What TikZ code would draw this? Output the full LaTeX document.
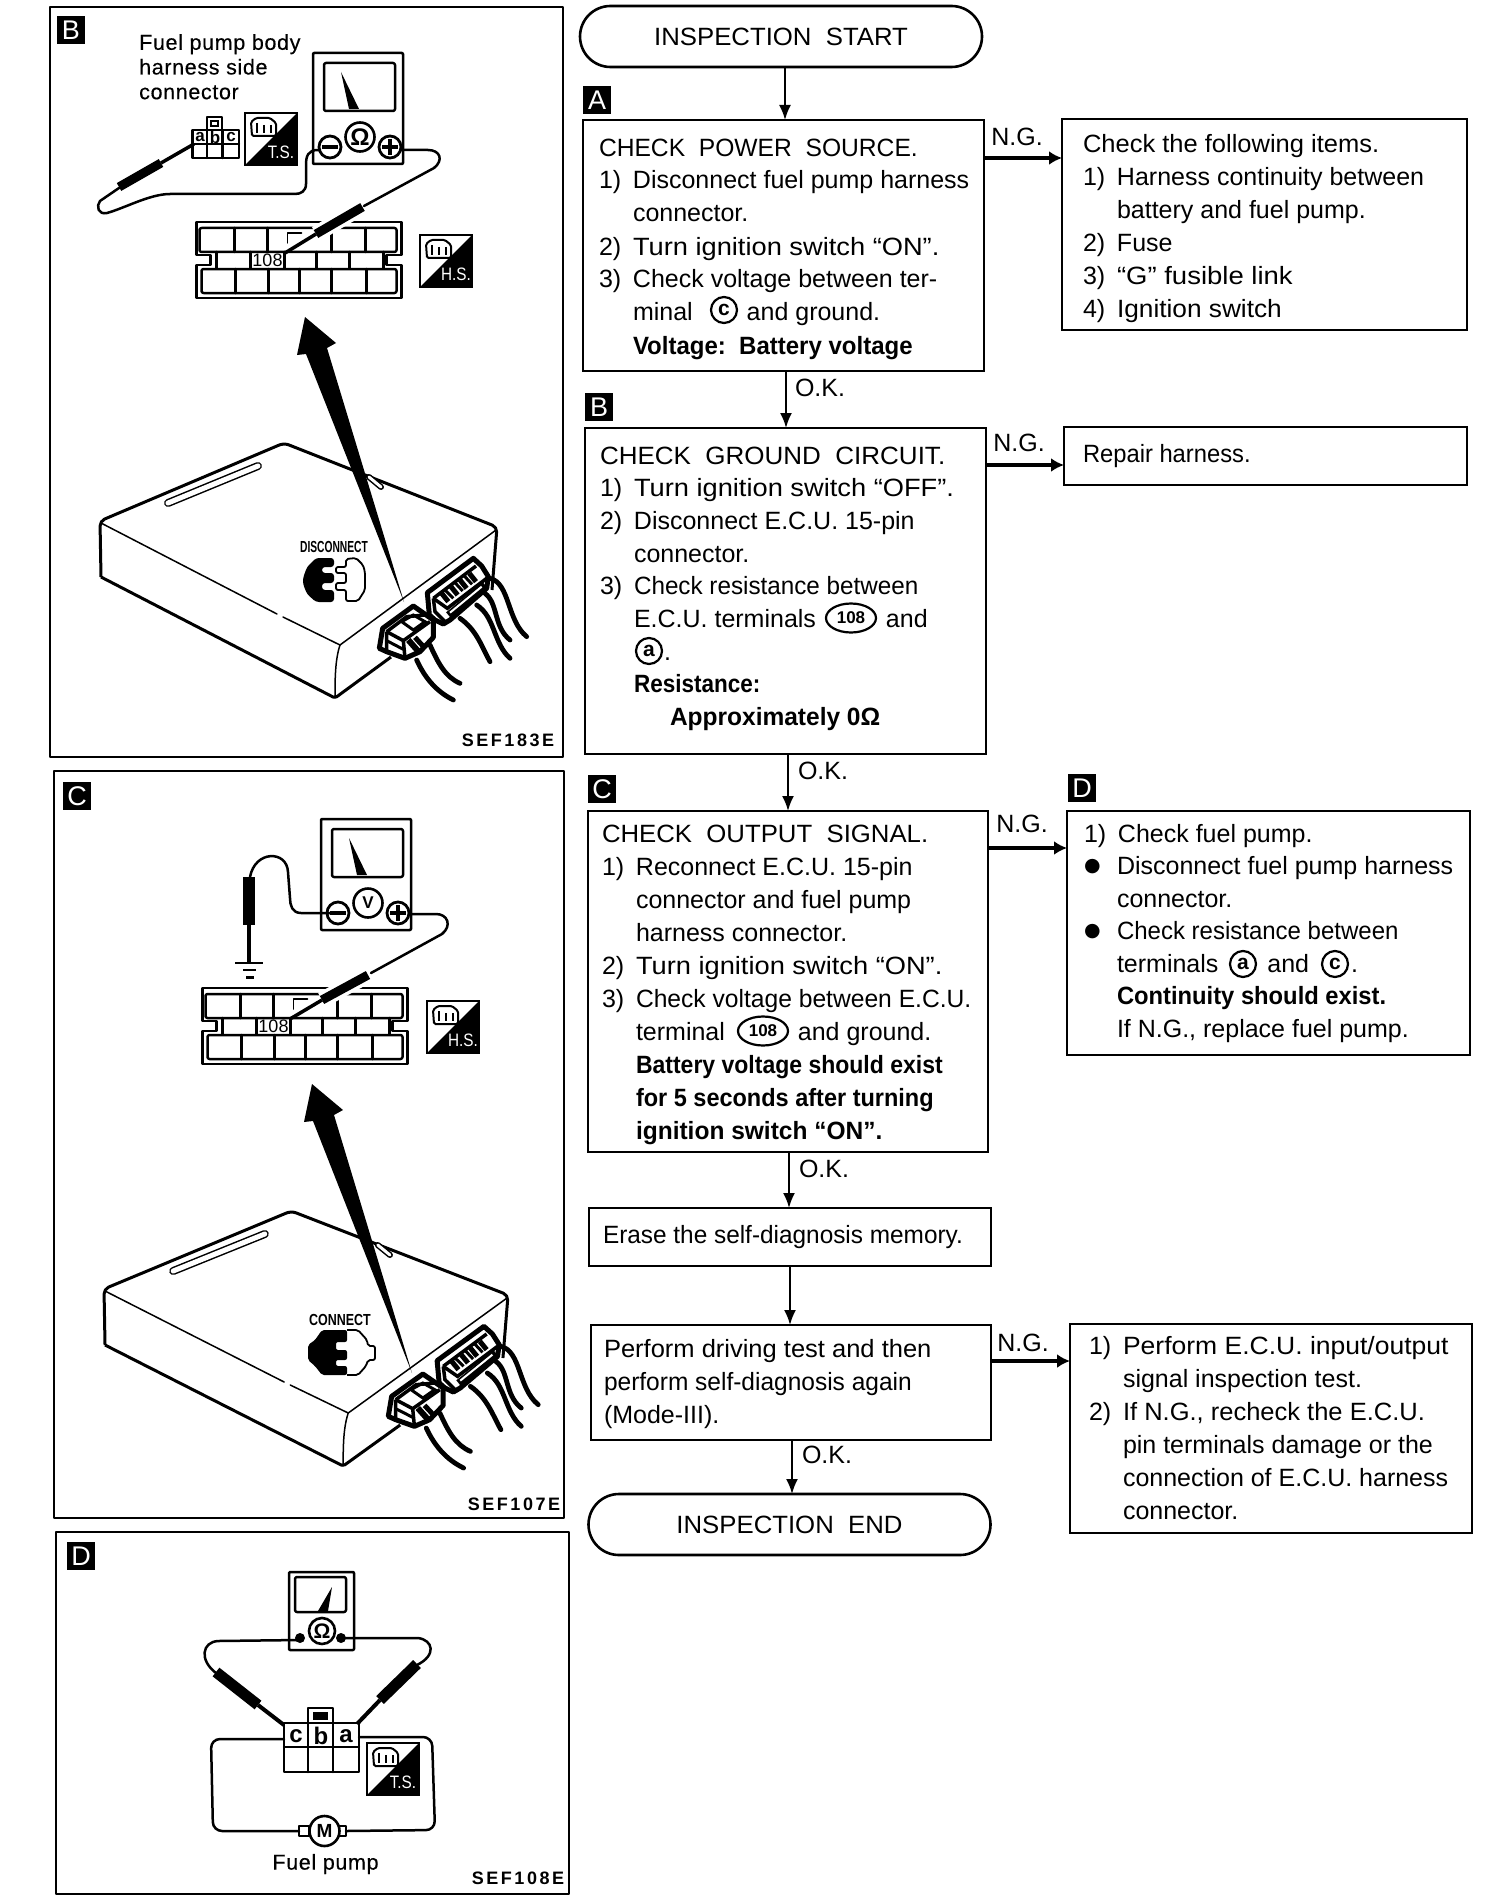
\documentclass[tikz,border=0pt]{standalone}
\usepackage{fontspec}
\usepackage{graphicx}
\setmainfont{Liberation Sans}
\newfontfamily\djv{DejaVu Sans}
\newfontfamily\codefont[LetterSpace=14]{Liberation Sans}
\newfontfamily\notefont[LetterSpace=3,FakeBold=0.3]{Liberation Sans}
\usetikzlibrary{arrows.meta,shapes.misc,shapes.geometric}
\newcommand{\flowfont}{\fontsize{25}{33}\selectfont}
\newcommand{\boxbody}[6]{\begin{minipage}[c][#2pt][t]{#1pt}\raggedright\leftskip=#3pt\relax\parindent=0pt\parskip=0pt\baselineskip=#5pt\relax\lineskip=0pt\vspace*{\dimexpr#4pt-24pt\relax}\noindent\rule{0pt}{24pt}#6\end{minipage}}
\newcommand{\nn}[1]{\makebox[34pt][l]{#1}}
\newcommand{\cc}{\hspace*{34pt}}
\newcommand{\dotb}{\makebox[33pt][l]{\raisebox{3pt}{\djv\fontsize{19}{19}\selectfont ●}}}
\newcommand{\sx}[2]{\scalebox{#1}[1]{#2}}
\tikzset{
 pen/.style={line width=2.5pt,line join=round,line cap=round},
 thin pen/.style={line width=1.5pt,line join=round,line cap=round},
 panel/.style={line width=2.8pt,line join=round},
 flowbox/.style={draw,line width=2.6pt,inner sep=0pt,outer sep=0pt,anchor=north west,font=\flowfont},
 term/.style={draw,rounded rectangle,line width=2.6pt,inner sep=0pt,outer sep=0pt,minimum width=402pt,minimum height=61pt,font=\flowfont},
 flow/.style={line width=2pt,-{Latex[length=15pt,width=12pt]}},
 ngflow/.style={line width=3.4pt,-{Latex[length=13pt,width=14pt]}},
 tag/.style={fill=black,text=white,inner sep=0pt,minimum size=28pt,font=\fontsize{27}{27}\selectfont},
 lab/.style={inner sep=0pt,font=\flowfont},
 ring/.style={circle,draw,line width=2.2pt,inner sep=0pt,minimum size=26pt,font=\fontsize{21}{21}\selectfont\bfseries},
 oval/.style={ellipse,draw,line width=2.2pt,inner sep=0pt,minimum width=50pt,minimum height=29pt,font=\fontsize{17}{17}\selectfont\bfseries},
 code/.style={inner sep=0pt,font=\fontsize{18}{18}\selectfont\codefont\bfseries},
 note/.style={inner sep=0pt,font=\fontsize{21.5}{24.7}\selectfont\notefont},
}
% ---------- repeated drawings
\newcommand{\badge}[4]{% x y name text
 \begin{scope}[shift={(#1,#2)}]
  \fill[black] (52,0) -- (52,52) -- (0,52) -- cycle;
  \draw[line width=2pt] (0,0) rectangle (52,52);
  \draw[line width=2pt,rounded corners=1.5pt,fill=white] (6,9) -- (11,5) -- (25,5) -- (31,10) -- (31,23) -- (7,23) -- cycle;
  \draw[line width=2.6pt] (12,10) -- (12,20) (19,12) -- (19,20) (26,12) -- (26,20);
  \node[inner sep=0pt,text=white,font=\fontsize{18}{18}\selectfont] (#3) at (36,39) {\sx{.85}{#4}};
 \end{scope}}
\newcommand{\bigconn}[3]{% x y shift, name
 \begin{scope}[shift={(#1,#2)}]
  \draw[pen] (198,222) -- (403,222) -- (403,255) -- (388,255) -- (388,265) -- (403,265) -- (403,298) -- (198,298) -- (198,265) -- (212,265) -- (212,255) -- (198,255) -- cycle;
  \draw[pen,rounded corners=2pt] (201,228) rectangle (398,252);
  \draw[pen,rounded corners=2pt] (203,269) rectangle (398,293);
  \draw[pen] (218,252) -- (218,268) (385,252) -- (385,268);
  \draw[pen] (236,228) -- (236,252) (269,228) -- (269,252) (333,228) -- (333,252) (367,228) -- (367,252);
  \draw[pen] (252,252) -- (252,268) (286,252) -- (286,268) (318,252) -- (318,268) (351,252) -- (351,268);
  \draw[pen] (237,269) -- (237,293) (270,269) -- (270,293) (301,269) -- (301,293) (333,269) -- (333,293) (368,269) -- (368,293);
  \draw[thin pen] (289,243) -- (289,233) -- (303,233);
  \node[inner sep=0pt,font=\fontsize{18}{18}\selectfont] (#3) at (269,260.5) {108};
 \end{scope}}
\newcommand{\meterbox}[4]{% x y shift, name, symbol
 \begin{scope}[shift={(#1,#2)}]
  \draw[pen,rounded corners=1pt,fill=white] (316,53) rectangle (406,164);
  \draw[pen,rounded corners=2pt] (327,63) rectangle (398,111);
  \fill[black] (344,72) -- (352,109) -- (362,109) -- cycle;
  \node[circle,draw,line width=2.6pt,minimum size=29pt,inner sep=0pt,font=\fontsize{#4}{#4}\selectfont\bfseries] (#3) at (363,137) {\meterglyph};
  \draw[line width=2.8pt,fill=white] (333,147) circle (11);
  \draw[line width=3.4pt] (325,147) -- (341,147);
  \draw[line width=2.8pt,fill=white] (393,147) circle (11);
  \draw[line width=3.4pt] (385,147) -- (401,147) (393,139) -- (393,155);
 \end{scope}}
\newcommand{\ecu}[3]{%
 \begin{scope}[shift={(#1,#2)},xscale=#3]
  \draw[line width=3pt,line join=round,rounded corners=5pt] (101,577) -- (100,521) -- (284,443) -- (497,527) -- (492,590);
  \draw[line width=3pt,line join=round,rounded corners=2pt] (101,577) -- (335,698) -- (391,657);
  \draw[thin pen] (101,523) -- (277,614) (283,617) -- (340,645);
  \draw[thin pen] (340,645) -- (496,530);
  \draw[thin pen] (340,645) .. controls (335,660) and (335,680) .. (335,698);
  \draw[line width=8pt,line cap=round] (168,503) -- (258,466);
  \draw[line width=5pt,line cap=round,white] (168,503) -- (258,466);
  \draw[line width=6pt,line cap=round] (369,477) -- (381,487);
  \draw[line width=3pt,line cap=round,white] (369,477) -- (381,487);
  \begin{scope}[shift={(370,550)},scale=.33333]
   % back connector
   \draw[line width=5pt,line join=round,fill=white] (172,128) -- (310,25) -- (335,48) -- (355,80) -- (350,115) -- (240,210) -- (220,222) -- (195,210) -- (178,195) -- cycle;
   \draw[line width=3.5pt] (190,145) -- (318,48) (190,145) -- (195,185) -- (225,215);
   \draw[line width=3.5pt] (190,145) -- (232,175) -- (350,85);
   \draw[line width=5pt] (215,130) -- (235,155) (243,110) -- (263,135) (270,90) -- (290,115) (298,70) -- (318,95);
   \draw[line width=3pt] (225,120) -- (250,145) (255,98) -- (278,123) (283,78) -- (306,103);
   \draw[line width=7pt] (235,195) -- (345,105);
   \draw[line width=2pt,white] (240,188) -- (335,110);
   % front connector
   \draw[line width=5pt,line join=round,fill=white] (38,235) -- (130,168) -- (190,210) -- (190,262) -- (150,305) -- (105,325) -- (50,305) -- (28,295) -- cycle;
   \draw[line width=3.5pt] (50,245) -- (110,200) -- (165,195) (50,245) -- (50,305);
   \draw[line width=3.5pt] (50,245) -- (100,272) -- (105,325) (100,272) -- (180,215);
   \draw[line width=3pt] (50,272) -- (100,298);
   \draw[line width=3pt] (95,215) -- (130,195) -- (165,215) -- (130,240) -- cycle;
   \draw[line width=6pt] (115,270) -- (150,310);
   \draw[line width=5pt] (135,262) -- (165,295);
   % wires
   \draw[line width=4.8pt,line cap=round] (140,330) .. controls (165,385) and (200,425) .. (250,450);
   \draw[line width=4.8pt,line cap=round] (180,285) .. controls (205,340) and (225,380) .. (270,400);
   \draw[line width=4.8pt,line cap=round] (270,205) .. controls (320,240) and (335,290) .. (360,335);
   \draw[line width=4.8pt,line cap=round] (320,165) .. controls (375,200) and (370,280) .. (420,325);
   \draw[line width=4.8pt,line cap=round] (345,130) .. controls (385,160) and (370,230) .. (420,270);
   \draw[line width=4.8pt,line cap=round] (360,85) .. controls (420,100) and (410,210) .. (470,260);
  \end{scope}
 \end{scope}}
\newcommand{\meterglyph}{}
\begin{document}
\begin{tikzpicture}[x=1pt,y=-1pt]
\fill[white] (0,0) rectangle (1488,1902);
\useasboundingbox (0,0) rectangle (1488,1902);

% ================= PANEL B =================
\draw[panel] (50,7) rectangle (563,757);
\node[tag] (tagPB) at (71,30) {B};
\node[note,anchor=north west,align=left] (noteB) at (139,34) {Fuel pump body\\harness side\\connector};
\renewcommand{\meterglyph}{Ω}
\meterbox{-3}{0}{omegaB}{24}
% small connector
\draw[pen] (192.5,130) rectangle (239,158);
\draw[pen] (192.5,144) -- (239,144) (207,130) -- (207,158) (222.6,130) -- (222.6,158);
\draw[pen] (207,117) rectangle (222,130);
\draw[line width=1.8pt] (211,121) rectangle (218,126);
\node[inner sep=0pt,font=\fontsize{17}{17}\selectfont\bfseries] (aB) at (200,137) {a};
\node[inner sep=0pt,font=\fontsize{17}{17}\selectfont\bfseries] (bB) at (215,137) {b};
\node[inner sep=0pt,font=\fontsize{17}{17}\selectfont\bfseries] (cB) at (231,137) {c};
\badge{245}{113}{tsB}{T.S.}
\bigconn{-1.5}{0}{n108B}
\badge{420}{235}{hsB}{H.S.}
% wires and probes
\draw[pen] (320,150) -- (318,150) .. controls (308,150) and (306,156) .. (306,165) -- (306,184) .. controls (306,191) and (301,194) .. (295,194) -- (170,194) .. controls (150,194) and (125,208) .. (107,213) .. controls (98,215) and (96,206) .. (100,201) -- (119,188);
\draw[line width=9pt] (119,187) -- (161,163);
\draw[line width=3.5pt] (161,163) -- (194,144);
\draw[pen] (401,150) -- (428,150) .. controls (440,150) and (444,160) .. (434,168) -- (364,206);
\draw[line width=16pt,white] (362,207) -- (316,234);
\draw[line width=9pt] (362.5,207) -- (316,234);
\draw[line width=3.5pt] (316,234) -- (285,253);
% ECU
\ecu{0}{0}{1}
\node[inner sep=0pt,font=\fontsize{16}{16}\selectfont\bfseries] (discB) at (334,547) {\sx{.64}{DISCONNECT}};
\fill[black,rounded corners=3pt] (334,558) -- (316,558) -- (307,567) -- (303,578) -- (303,584) -- (307,594) -- (316,602) -- (334,602) -- (334,590) -- (322,590) -- (322,583) -- (334,583) -- (334,573) -- (322,573) -- (322,567) -- (334,567) -- cycle;
\draw[line width=1.8pt,line join=round,rounded corners=2pt] (346,567) -- (346,559) -- (356,558) -- (363,565) -- (365,572) -- (365,590) -- (358,601) -- (346,601) -- (346,590) -- (336,590) -- (336,583) -- (346,583) -- (346,573) -- (336,573) -- (336,567) -- cycle;
\fill[black] (305,317) -- (336,343) -- (327,348) -- (404,602) -- (306,354) -- (297,355) -- cycle;
\node[code] (codeB) at (508,740) {SEF183E};

% ================= PANEL C =================
\draw[panel] (54,771) rectangle (564,1518);
\node[tag] (tagPC) at (77,796) {C};
\renewcommand{\meterglyph}{V}
\meterbox{5}{766}{voltC}{17}
\bigconn{4.5}{766}{n108C}
\badge{427}{1001}{hsC}{H.S.}
\draw[pen] (330,913) -- (301,913) .. controls (292,913) and (290,905) .. (290,898) -- (288,872) .. controls (287,850) and (255,850) .. (250,877);
\draw[line width=12pt] (249,877) -- (249,925);
\draw[line width=4pt] (249,925) -- (249,963);
\draw[line width=2.5pt] (235,963) -- (263,963);
\draw[line width=2.5pt] (243,970) -- (256,970);
\draw[line width=3pt] (246,977) -- (254,977);
\draw[pen] (409,914) -- (436,914) .. controls (448,914) and (452,926) .. (442,934) -- (371,973);
\draw[line width=16pt,white] (368,975) -- (322,1000);
\draw[line width=9pt] (368,975) -- (322,1000);
\draw[line width=3.5pt] (322,1000) -- (290,1019);
\ecu{2.23}{768}{1.0177}
\node[inner sep=0pt,font=\fontsize{16}{16}\selectfont\bfseries] (discC) at (340,1320) {\sx{.78}{CONNECT}};
\fill[black,rounded corners=2pt] (347,1330) -- (322,1330) -- (315,1340) -- (308,1345) -- (308,1360) -- (315,1366) -- (322,1375) -- (347,1375) -- (347,1366) -- (336,1366) -- (336,1360) -- (347,1360) -- (347,1350) -- (336,1350) -- (336,1342) -- (347,1342) -- cycle;
\draw[line width=1.8pt,line join=round,rounded corners=2pt] (347,1330) -- (358,1330) -- (367,1340) -- (368,1346) -- (375,1346) -- (375,1360) -- (368,1360) -- (366,1366) -- (358,1375) -- (347,1375);
\fill[black] (312,1084) -- (343,1110) -- (334,1115) -- (412,1373) -- (313,1121) -- (304,1122) -- cycle;
\node[code] (codeC) at (514,1504) {SEF107E};

% ================= PANEL D =================
\draw[panel] (56,1532) rectangle (569,1894);
\node[tag] (tagPD) at (81,1556) {D};
\begin{scope}[xshift=-3]
\draw[pen,rounded corners=1pt] (292,1572) rectangle (357,1650);
\draw[pen,rounded corners=2pt] (298,1577) rectangle (349,1612);
\fill[black] (335,1587) -- (321,1611) -- (331,1611) -- cycle;
\node[circle,draw,line width=2.6pt,minimum size=26pt,inner sep=0pt,font=\fontsize{21}{21}\selectfont\bfseries] (omegaD) at (325,1631) {Ω};
\fill[black] (303,1638) circle (5) (344,1638) circle (5);
\draw[pen] (303,1640) -- (221,1641) .. controls (205,1642) and (202,1660) .. (219,1673);
\draw[line width=11pt] (219,1672) -- (261,1705);
\draw[line width=4pt] (261,1705) -- (287,1725);
\draw[pen] (344,1638) -- (421,1638) .. controls (436,1640) and (440,1655) .. (420,1665);
\draw[line width=11pt] (420,1664) -- (383,1700);
\draw[line width=4pt] (383,1700) -- (360,1724);
\draw[pen] (287,1723) rectangle (362,1772);
\draw[pen] (287,1747) -- (362,1747) (311,1723) -- (311,1772) (336,1723) -- (336,1772);
\draw[pen] (311,1708) rectangle (336,1723);
\fill[black] (316,1712) rectangle (331,1720);
\node[inner sep=0pt,font=\fontsize{24}{24}\selectfont\bfseries] (cD) at (299,1736) {c};
\node[inner sep=0pt,font=\fontsize{24}{24}\selectfont\bfseries] (bD) at (324,1736) {b};
\node[inner sep=0pt,font=\fontsize{24}{24}\selectfont\bfseries] (aD) at (349,1736) {a};
\draw[pen,rounded corners=9pt] (287,1739) -- (214,1739) -- (216,1831) -- (302,1831);
\draw[pen,rounded corners=9pt] (349,1831) -- (438,1830) -- (435,1737) -- (362,1737);
\draw[pen] (302,1826) rectangle (312,1836);
\draw[pen] (342,1826) rectangle (349,1836);
\node[circle,draw,line width=2.6pt,minimum size=30pt,inner sep=0pt,font=\fontsize{19}{19}\selectfont\bfseries] (motor) at (327.5,1831) {M};
\badge{370}{1743}{tsD}{T.S.}
\node[inner sep=0pt,font=\fontsize{21.5}{21.5}\selectfont\notefont] (pumpD) at (328.5,1864) {Fuel pump};
\end{scope}
\node[code] (codeD) at (518,1878) {SEF108E};

% ================= FLOWCHART =================
\node[term] (start) at (781,36.5) {\sx{1.03}{INSPECTION\ \ START}};
\node[tag] (tagA) at (597,100) {A};
\node[flowbox] (boxA) at (583,120) {\boxbody{401}{251}{16}{36}{33}{\sx{.985}{CHECK\ \ POWER\ \ SOURCE.}\\
\nn{1)}Disconnect fuel pump harness\\
\cc connector.\\
\nn{2)}\sx{1.09}{Turn ignition switch “ON”.}\\
\nn{3)}Check voltage between ter-\\
\cc minal\hspace*{54pt}and ground.\\
\cc\sx{.96}{\textbf{Voltage:\ \ Battery voltage}}}};
\node[ring] (ringAc) at (724,310) {c};
\node[flowbox] (fixA) at (1062,119) {\boxbody{405}{211}{21}{34}{33}{\sx{1.02}{Check the following items.}\\
\nn{1)}Harness continuity between\\
\cc battery and fuel pump.\\
\nn{2)}Fuse\\
\nn{3)}\sx{1.1}{“G” fusible link}\\
\nn{4)}\sx{1.05}{Ignition switch}}};
\node[tag] (tagB) at (599,407) {B};
\node[flowbox] (boxB) at (585,428) {\boxbody{401}{326}{15}{36}{32.7}{\sx{1.04}{CHECK\ \ GROUND\ \ CIRCUIT.}\\
\nn{1)}\sx{1.09}{Turn ignition switch “OFF”.}\\
\nn{2)}Disconnect E.C.U. 15-pin\\
\cc connector.\\
\nn{3)}\sx{.97}{Check resistance between}\\
\cc E.C.U. terminals\hspace*{70pt}and\\
\cc\hspace*{30pt}.\\
\cc\sx{.9}{\textbf{Resistance:}}\\
\hspace*{70pt}\sx{.98}{\textbf{Approximately 0Ω}}}};
\node[oval] (ovalB) at (851,618) {108};
\node[ring] (ringBa) at (649,651) {a};
\node[flowbox] (fixB) at (1064,427) {\boxbody{403}{58}{19}{35}{33}{\sx{.95}{Repair harness.}}};
\node[tag] (tagC) at (602,789) {C};
\node[flowbox] (boxC) at (588,811) {\boxbody{400}{341}{14}{31}{33}{\sx{1.03}{CHECK\ \ OUTPUT\ \ SIGNAL.}\\
\nn{1)}Reconnect E.C.U. 15-pin\\
\cc connector and fuel pump\\
\cc harness connector.\\
\nn{2)}\sx{1.09}{Turn ignition switch “ON”.}\\
\nn{3)}\sx{.985}{Check voltage between E.C.U.}\\
\cc terminal\hspace*{73pt}and ground.\\
\cc\sx{.92}{\textbf{Battery voltage should exist}}\\
\cc\sx{.94}{\textbf{for 5 seconds after turning}}\\
\cc\sx{.98}{\textbf{ignition switch “ON”.}}}};
\node[oval] (ovalC) at (763,1031) {108};
\node[tag] (tagD) at (1082,788) {D};
\node[flowbox] (fixC) at (1067,811) {\boxbody{403}{244}{17}{31}{32.5}{\nn{1)}Check fuel pump.\\
\dotb Disconnect fuel pump harness\\
\hspace*{33pt}connector.\\
\dotb\sx{.96}{Check resistance between}\\
\hspace*{33pt}terminals\hspace*{49pt}and\hspace*{42pt}.\\
\hspace*{33pt}\sx{.95}{\textbf{Continuity should exist.}}\\
\hspace*{33pt}If N.G., replace fuel pump.}};
\node[ring] (ringDa) at (1243,964) {a};
\node[ring] (ringDc) at (1335,964) {c};
\node[flowbox] (erase) at (589,1208) {\boxbody{402}{58}{14}{35}{33}{\sx{.975}{Erase the self-diagnosis memory.}}};
\node[flowbox] (drive) at (591,1325) {\boxbody{400}{115}{13}{32}{33}{\sx{1.02}{Perform driving test and then}\\
\sx{.98}{perform self-diagnosis again}\\
(Mode-III).}};
\node[flowbox] (fixD) at (1070,1324) {\boxbody{402}{209}{19}{30}{33}{\nn{1)}\sx{1.06}{Perform E.C.U. input/output}\\
\cc signal inspection test.\\
\nn{2)}\sx{1.02}{If N.G., recheck the E.C.U.}\\
\cc pin terminals damage or the\\
\cc connection of E.C.U. harness\\
\cc connector.}};
\node[term] (finish) at (789.5,1524.5) {\sx{1.03}{INSPECTION\ \ END}};

\draw[flow] ([xshift=4]start.south) -- ([xshift=1.5]boxA.north);
\draw[flow] ([xshift=2.5]boxA.south) -- ([xshift=.5]boxB.north);
\draw[flow] ([xshift=2.5]boxB.south) -- (boxC.north);
\draw[flow] ([xshift=1]boxC.south) -- ([xshift=-1]erase.north);
\draw[flow] (erase.south) -- ([xshift=-1]drive.north);
\draw[flow] ([xshift=1]drive.south) -- ([xshift=2.5]finish.north);
\draw[ngflow] ([yshift=87.5]boxA.east) -- ([yshift=66.5]fixA.west);
\draw[ngflow] ([yshift=126]boxB.east) -- ([yshift=-9]fixB.west);
\draw[ngflow] ([yshift=133.5]boxC.east) -- ([yshift=85]fixC.west);
\draw[ngflow] ([yshift=21.5]drive.east) -- ([yshift=67.5]fixD.west);
\node[lab] (ng1) at (1017,137) {N.G.};
\node[lab] (ng2) at (1019,443) {N.G.};
\node[lab] (ng3) at (1022,824) {N.G.};
\node[lab] (ng4) at (1023,1343) {N.G.};
\node[lab] (ok1) at (820,388) {O.K.};
\node[lab] (ok2) at (823,771) {O.K.};
\node[lab] (ok3) at (824,1169) {O.K.};
\node[lab] (ok4) at (827,1455) {O.K.};
\end{tikzpicture}
\end{document}
